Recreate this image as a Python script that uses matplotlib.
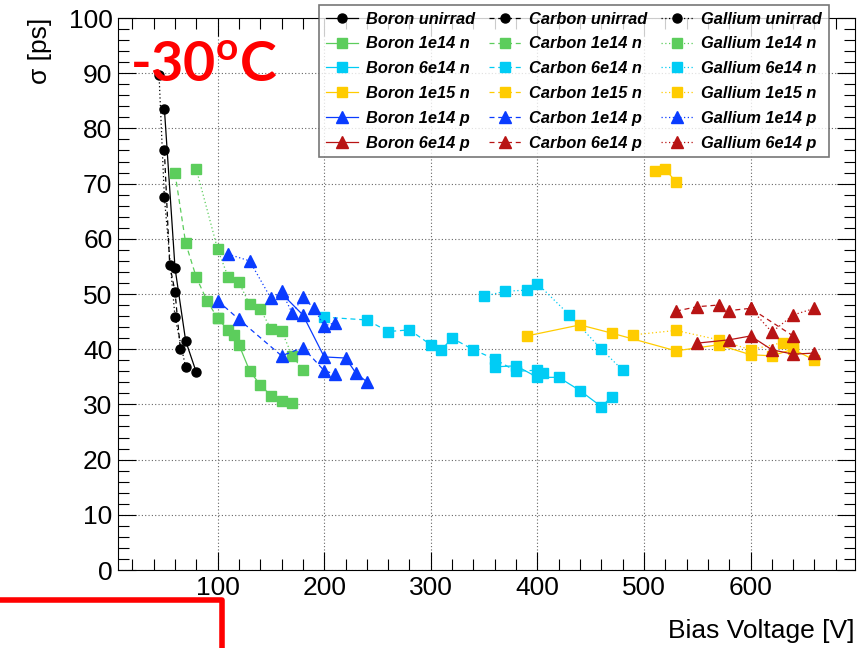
import matplotlib
matplotlib.use('Agg')
import matplotlib.pyplot as plt
from matplotlib.lines import Line2D
from matplotlib.ticker import MultipleLocator

plt.rcParams['font.family'] = ['Liberation Sans', 'DejaVu Sans']
plt.rcParams['mathtext.fontset'] = 'custom'
plt.rcParams['mathtext.bf'] = 'Lato:bold'
plt.rcParams['mathtext.rm'] = 'Lato'

# --- data: x = bias voltage [V], y = sigma [ps] ---
boron_unirrad_x = [50, 60, 70, 80]
boron_unirrad_y = [83.6, 54.7, 41.5, 35.8]
carbon_unirrad_x = [50, 55, 60, 65]
carbon_unirrad_y = [76.0, 55.3, 50.4, 40.0]
gallium_unirrad_x = [45, 50, 60, 70]
gallium_unirrad_y = [89.7, 67.5, 45.8, 36.7]

boron_1e14n_x = [100, 110, 115, 120, 130, 140, 150, 160, 170]
boron_1e14n_y = [45.6, 43.4, 42.6, 40.8, 36.1, 33.5, 31.6, 30.6, 30.2]
carbon_1e14n_x = [60, 70, 80, 90, 100]
carbon_1e14n_y = [71.9, 59.2, 53.0, 48.8, 45.6]
gallium_1e14n_x = [80, 100, 110, 120, 130, 140, 150, 160, 170, 180]
gallium_1e14n_y = [72.6, 58.1, 53.0, 52.1, 48.1, 47.2, 43.7, 43.3, 38.8, 36.2]

boron_6e14n_x = [360, 380, 400, 420, 440, 460, 470]
boron_6e14n_y = [36.8, 37.0, 34.9, 34.9, 32.5, 29.6, 31.4]
carbon_6e14n_x = [200, 240, 260, 280, 300, 310, 320, 340, 360, 380, 400, 405]
carbon_6e14n_y = [45.8, 45.3, 43.2, 43.5, 40.8, 39.9, 42.0, 39.9, 38.2, 36.0, 36.2, 35.7]
gallium_6e14n_x = [350, 370, 390, 400, 430, 460, 480]
gallium_6e14n_y = [49.6, 50.5, 50.7, 51.9, 46.2, 40.0, 36.2]

boron_1e15n_x = [390, 440, 470, 530, 570, 600, 620, 640, 660]
boron_1e15n_y = [42.4, 44.4, 42.9, 39.7, 40.8, 39.0, 38.8, 40.0, 38.0]
carbon_1e15n_x = [510, 520, 530]
carbon_1e15n_y = [72.3, 72.6, 70.3]
gallium_1e15n_x = [490, 530, 570, 600, 630, 640]
gallium_1e15n_y = [42.6, 43.4, 41.7, 39.9, 41.2, 40.8]

boron_1e14p_x = [160, 180, 200, 220, 230, 240]
boron_1e14p_y = [50.1, 46.2, 38.6, 38.4, 35.6, 34.1]
carbon_1e14p_x = [100, 120, 160, 180, 200, 210]
carbon_1e14p_y = [48.8, 45.4, 38.8, 40.3, 36.1, 35.5]
gallium_1e14p_x = [110, 130, 150, 160, 170, 180, 190, 200, 210]
gallium_1e14p_y = [57.2, 56.0, 49.2, 50.5, 46.5, 49.4, 47.5, 44.2, 44.8]

boron_6e14p_x = [550, 580, 600, 620, 640, 660]
boron_6e14p_y = [41.1, 41.7, 42.4, 39.9, 39.1, 39.3]
carbon_6e14p_x = [530, 550, 570, 580, 600, 640]
carbon_6e14p_y = [46.9, 47.7, 48.0, 47.0, 47.4, 42.4]
gallium_6e14p_x = [600, 620, 640, 660]
gallium_6e14p_y = [47.4, 43.1, 46.2, 47.4]

materials = ['Boron', 'Carbon', 'Gallium']
styles = {'Boron': '-', 'Carbon': (0, (4, 3)), 'Gallium': (0, (1, 2))}
series = [
    ('unirrad', 'black', 'o', 6.5,
     [(boron_unirrad_x, boron_unirrad_y), (carbon_unirrad_x, carbon_unirrad_y), (gallium_unirrad_x, gallium_unirrad_y)]),
    ('1e14 n', '#5ccd5c', 's', 7.5,
     [(boron_1e14n_x, boron_1e14n_y), (carbon_1e14n_x, carbon_1e14n_y), (gallium_1e14n_x, gallium_1e14n_y)]),
    ('6e14 n', '#00ccf5', 's', 7.5,
     [(boron_6e14n_x, boron_6e14n_y), (carbon_6e14n_x, carbon_6e14n_y), (gallium_6e14n_x, gallium_6e14n_y)]),
    ('1e15 n', '#ffcc00', 's', 7.5,
     [(boron_1e15n_x, boron_1e15n_y), (carbon_1e15n_x, carbon_1e15n_y), (gallium_1e15n_x, gallium_1e15n_y)]),
    ('1e14 p', '#0a3cff', '^', 8,
     [(boron_1e14p_x, boron_1e14p_y), (carbon_1e14p_x, carbon_1e14p_y), (gallium_1e14p_x, gallium_1e14p_y)]),
    ('6e14 p', '#b81414', '^', 8,
     [(boron_6e14p_x, boron_6e14p_y), (carbon_6e14p_x, carbon_6e14p_y), (gallium_6e14p_x, gallium_6e14p_y)]),
]

fig = plt.figure(figsize=(8.66, 6.48), dpi=100)
ax = fig.add_axes([118/866, 1-570/648, 737/866, 552/648])

handles = {m: [] for m in materials}
for name, col, mk, ms, data in series:
    for m, (xs, ys) in zip(materials, data):
        h, = ax.plot(xs, ys, color=col, ls=styles[m], lw=0.9, marker=mk, ms=ms,
                     mec=col, mfc=col, label=m + ' ' + name)
        handles[m].append(h)

ax.set_xlim(6.5, 698)
ax.set_ylim(0, 100)
ax.xaxis.set_major_locator(MultipleLocator(100))
ax.xaxis.set_minor_locator(MultipleLocator(20))
ax.yaxis.set_major_locator(MultipleLocator(10))
ax.yaxis.set_minor_locator(MultipleLocator(2))
ax.grid(True, which='major', ls=(0, (1, 2)), color='#666666', lw=0.8)
ax.tick_params(which='both', direction='in', top=True, right=True, labelsize=19, width=0.8)
ax.tick_params(which='major', length=13)
ax.tick_params(which='minor', length=8)
ax.tick_params(axis='x', pad=4)
ax.tick_params(axis='y', pad=4)
ax.set_xticks([100, 200, 300, 400, 500, 600])
ax.set_yticks(range(0, 101, 10))

ax.set_xlabel('Bias Voltage [V]', fontsize=19, loc='right')
ax.xaxis.set_label_coords(1.0, -0.088)
ax.set_ylabel('σ [ps]', fontsize=19, loc='top')
ax.yaxis.set_label_coords(-0.106, 1.0)
ax.yaxis.label.set_va('center')

all_handles = handles['Boron'] + handles['Carbon'] + handles['Gallium']
leg = fig.legend(handles=all_handles, loc='upper left', bbox_to_anchor=(319/866, 1-5/648),
                 ncol=3, frameon=True, fancybox=False, borderaxespad=0,
                 prop={'family': 'Liberation Sans', 'weight': 'bold', 'style': 'italic', 'size': 11.8},
                 handlelength=2.0, handletextpad=0.45, columnspacing=0.85,
                 labelspacing=0.6, borderpad=0.4)
leg.get_frame().set_edgecolor('#555555')
leg.get_frame().set_linewidth(1.2)

fig.text(130/866, 1-82/648, r'-30$^{\mathbf{o}}$C', color='red', fontsize=40,
         family='Lato', weight='bold', va='baseline', ha='left')

# red slide frame corner at the bottom left
fig.add_artist(Line2D([0, 222/866, 222/866], [1-600/648, 1-600/648, 0],
                      transform=fig.transFigure, color='red', lw=4))

plt.savefig('out.png', dpi=100)
